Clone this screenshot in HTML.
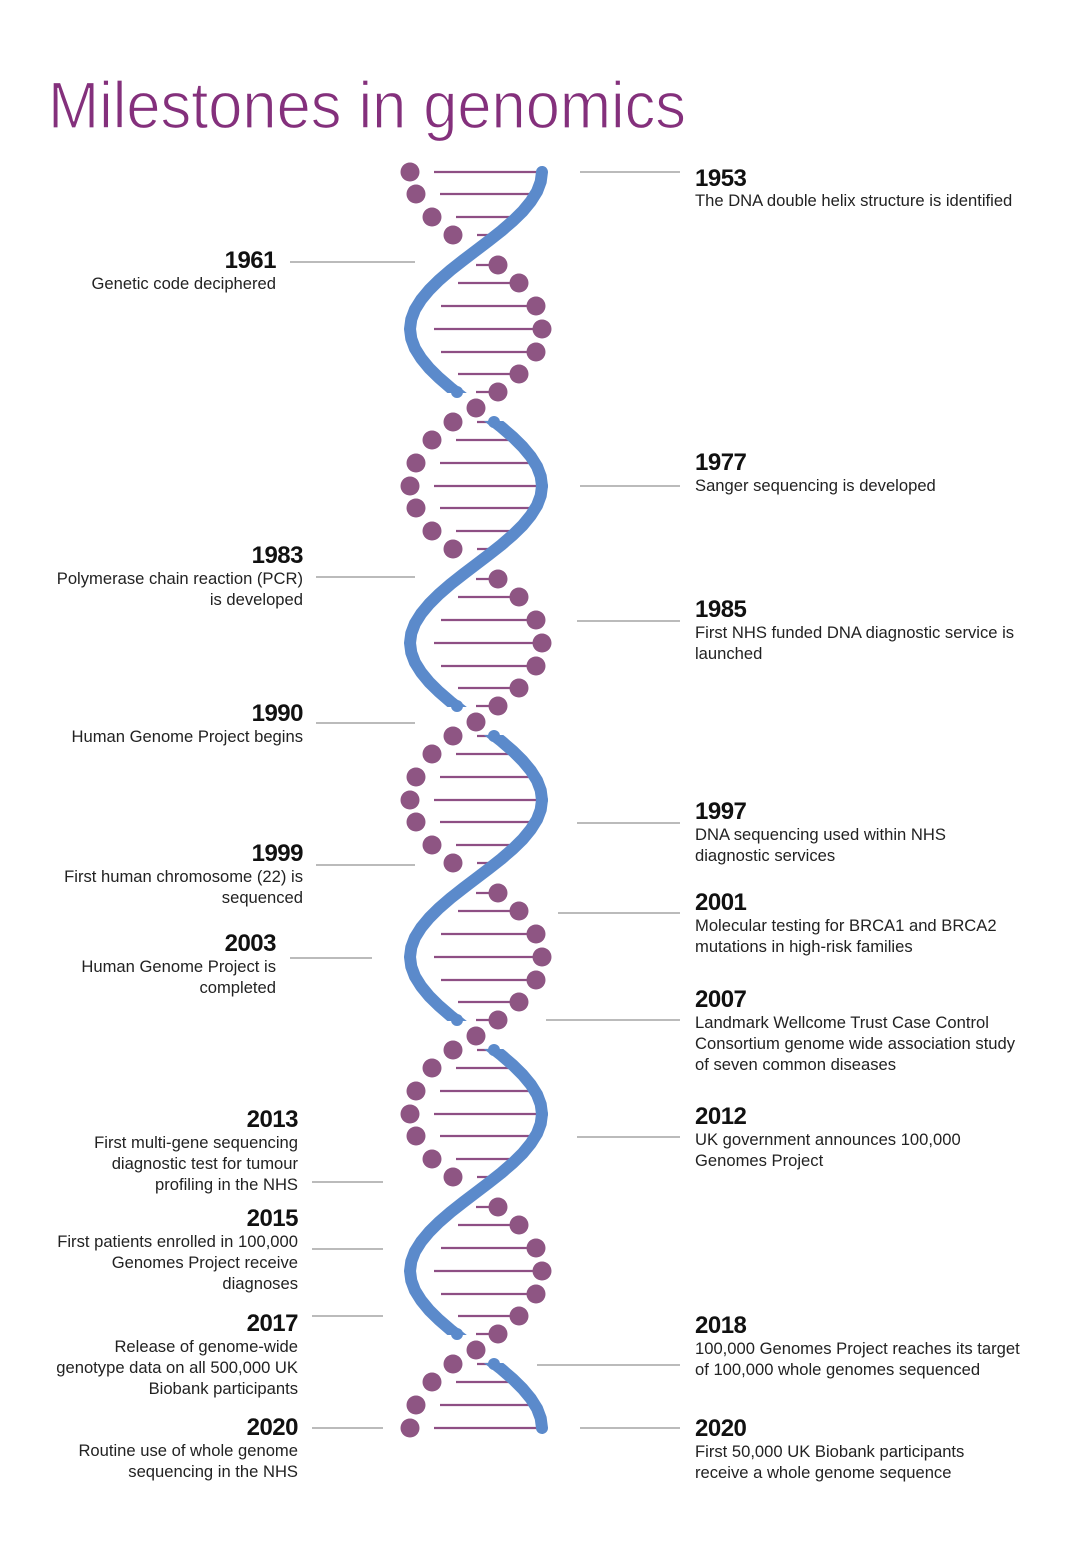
<!DOCTYPE html>
<html><head><meta charset="utf-8">
<style>
html,body{margin:0;padding:0;background:#fff;}
svg{display:block;}
.t{font-family:"Liberation Sans",sans-serif;}
.y{font-family:"Liberation Sans",sans-serif;font-weight:bold;font-size:24px;fill:#111;letter-spacing:-0.5px;}
.d{font-family:"Liberation Sans",sans-serif;font-size:16.6px;fill:#222;}
.L{text-anchor:end;}
.ld{stroke:#777;stroke-width:1;}
</style></head>
<body>
<svg width="1080" height="1544" viewBox="0 0 1080 1544" xmlns="http://www.w3.org/2000/svg">
<defs>
<g id="per">
 <g stroke="#8e4f84" stroke-width="2.2">
  <line x1="434" y1="172" x2="540" y2="172"/>
  <line x1="440" y1="194" x2="534" y2="194"/>
  <line x1="456" y1="217" x2="517" y2="217"/>
  <line x1="477" y1="235" x2="496" y2="235"/>
  <line x1="476" y1="265" x2="498" y2="265"/>
  <line x1="458" y1="283" x2="519" y2="283"/>
  <line x1="441" y1="306" x2="536" y2="306"/>
  <line x1="434" y1="329" x2="542" y2="329"/>
  <line x1="441" y1="352" x2="536" y2="352"/>
  <line x1="458" y1="374" x2="519" y2="374"/>
  <line x1="476" y1="392" x2="498" y2="392"/>
  <line x1="477" y1="422" x2="496" y2="422"/>
  <line x1="456" y1="440" x2="517" y2="440"/>
  <line x1="440" y1="463" x2="534" y2="463"/>
 </g>
 <g fill="#8e5583">
  <circle cx="410" cy="172" r="9.5"/>
  <circle cx="416" cy="194" r="9.5"/>
  <circle cx="432" cy="217" r="9.5"/>
  <circle cx="453" cy="235" r="9.5"/>
  <circle cx="498" cy="265" r="9.5"/>
  <circle cx="519" cy="283" r="9.5"/>
  <circle cx="536" cy="306" r="9.5"/>
  <circle cx="542" cy="329" r="9.5"/>
  <circle cx="536" cy="352" r="9.5"/>
  <circle cx="519" cy="374" r="9.5"/>
  <circle cx="498" cy="392" r="9.5"/>
  <circle cx="476" cy="408" r="9.5"/>
  <circle cx="453" cy="422" r="9.5"/>
  <circle cx="432" cy="440" r="9.5"/>
  <circle cx="416" cy="463" r="9.5"/>
 </g>
</g>
<clipPath id="cp">
 <rect x="380" y="150" width="200" height="243"/>
 <rect x="380" y="421" width="200" height="286"/>
 <rect x="380" y="735" width="200" height="286"/>
 <rect x="380" y="1049" width="200" height="286"/>
 <rect x="380" y="1363" width="200" height="90"/>
</clipPath>
<polyline id="wave" fill="none" points="542,0 540.7,9.8 537,19.6 530.8,29.4 522.7,39.3 512.7,49.1 501.3,58.9 488.9,68.7 476,78.5 463.1,88.3 450.7,98.1 439.3,107.9 429.3,117.8 421.2,127.6 415,137.4 411.3,147.2 410,157 411.3,166.8 415,176.6 421.2,186.4 429.3,196.3 439.3,206.1 450.7,215.9 463.1,225.7 476,235.5 488.9,245.3 501.3,255.1 512.7,264.9 522.7,274.8 530.8,284.6 537,294.4 540.7,304.2 542,314"/>
<g id="caps"><circle cx="457" cy="392" r="6"/><circle cx="494" cy="422" r="6"/></g>
</defs>

<text class="t" x="48" y="128" font-size="66" fill="#84307c" stroke="#fff" stroke-width="1.3" paint-order="normal" textLength="638" lengthAdjust="spacingAndGlyphs">Milestones in genomics</text>

<use href="#per"/>
<use href="#per" y="314"/>
<use href="#per" y="628"/>
<use href="#per" y="942"/>
<line x1="434" y1="1428" x2="540" y2="1428" stroke="#8e4f84" stroke-width="2.2"/>
<circle cx="410" cy="1428" r="9.5" fill="#8e5583"/>

<g clip-path="url(#cp)" stroke="#5b8acb" stroke-width="12" stroke-linecap="round" stroke-linejoin="round">
 <use href="#wave" y="172"/>
 <use href="#wave" y="486"/>
 <use href="#wave" y="800"/>
 <use href="#wave" y="1114"/>
</g>
<g fill="#5b8acb">
 <use href="#caps"/>
 <use href="#caps" y="314"/>
 <use href="#caps" y="628"/>
 <use href="#caps" y="942"/>
</g>

<!-- leaders -->
<g class="ld">
 <line x1="580" y1="172" x2="680" y2="172"/>
 <line x1="580" y1="486" x2="680" y2="486"/>
 <line x1="577" y1="621" x2="680" y2="621"/>
 <line x1="577" y1="823" x2="680" y2="823"/>
 <line x1="558" y1="913" x2="680" y2="913"/>
 <line x1="546" y1="1020" x2="680" y2="1020"/>
 <line x1="577" y1="1137" x2="680" y2="1137"/>
 <line x1="537" y1="1365" x2="680" y2="1365"/>
 <line x1="580" y1="1428" x2="680" y2="1428"/>
 <line x1="290" y1="262" x2="415" y2="262"/>
 <line x1="316" y1="577" x2="415" y2="577"/>
 <line x1="316" y1="723" x2="415" y2="723"/>
 <line x1="316" y1="865" x2="415" y2="865"/>
 <line x1="290" y1="958" x2="372" y2="958"/>
 <line x1="312" y1="1182" x2="383" y2="1182"/>
 <line x1="312" y1="1249" x2="383" y2="1249"/>
 <line x1="312" y1="1316" x2="383" y2="1316"/>
 <line x1="312" y1="1428" x2="383" y2="1428"/>
</g>

<!-- right -->
<text class="y" x="695" y="186">1953</text>
<text class="d" x="695" y="206">The DNA double helix structure is identified</text>
<text class="y" x="695" y="470">1977</text>
<text class="d" x="695" y="491">Sanger sequencing is developed</text>
<text class="y" x="695" y="617">1985</text>
<text class="d" x="695" y="638">First NHS funded DNA diagnostic service is</text>
<text class="d" x="695" y="659">launched</text>
<text class="y" x="695" y="819">1997</text>
<text class="d" x="695" y="840">DNA sequencing used within NHS</text>
<text class="d" x="695" y="861">diagnostic services</text>
<text class="y" x="695" y="910">2001</text>
<text class="d" x="695" y="931">Molecular testing for BRCA1 and BRCA2</text>
<text class="d" x="695" y="952">mutations in high-risk families</text>
<text class="y" x="695" y="1007">2007</text>
<text class="d" x="695" y="1028">Landmark Wellcome Trust Case Control</text>
<text class="d" x="695" y="1049">Consortium genome wide association study</text>
<text class="d" x="695" y="1070">of seven common diseases</text>
<text class="y" x="695" y="1124">2012</text>
<text class="d" x="695" y="1145">UK government announces 100,000</text>
<text class="d" x="695" y="1166">Genomes Project</text>
<text class="y" x="695" y="1333">2018</text>
<text class="d" x="695" y="1354">100,000 Genomes Project reaches its target</text>
<text class="d" x="695" y="1375">of 100,000 whole genomes sequenced</text>
<text class="y" x="695" y="1436">2020</text>
<text class="d" x="695" y="1457">First 50,000 UK Biobank participants</text>
<text class="d" x="695" y="1478">receive a whole genome sequence</text>

<!-- left -->
<text class="y L" x="276" y="268">1961</text>
<text class="d L" x="276" y="289">Genetic code deciphered</text>
<text class="y L" x="303" y="563">1983</text>
<text class="d L" x="303" y="584">Polymerase chain reaction (PCR)</text>
<text class="d L" x="303" y="605">is developed</text>
<text class="y L" x="303" y="721">1990</text>
<text class="d L" x="303" y="742">Human Genome Project begins</text>
<text class="y L" x="303" y="861">1999</text>
<text class="d L" x="303" y="882">First human chromosome (22) is</text>
<text class="d L" x="303" y="903">sequenced</text>
<text class="y L" x="276" y="951">2003</text>
<text class="d L" x="276" y="972">Human Genome Project is</text>
<text class="d L" x="276" y="993">completed</text>
<text class="y L" x="298" y="1127">2013</text>
<text class="d L" x="298" y="1148">First multi-gene sequencing</text>
<text class="d L" x="298" y="1169">diagnostic test for tumour</text>
<text class="d L" x="298" y="1190">profiling in the NHS</text>
<text class="y L" x="298" y="1226">2015</text>
<text class="d L" x="298" y="1247">First patients enrolled in 100,000</text>
<text class="d L" x="298" y="1268">Genomes Project receive</text>
<text class="d L" x="298" y="1289">diagnoses</text>
<text class="y L" x="298" y="1331">2017</text>
<text class="d L" x="298" y="1352">Release of genome-wide</text>
<text class="d L" x="298" y="1373">genotype data on all 500,000 UK</text>
<text class="d L" x="298" y="1394">Biobank participants</text>
<text class="y L" x="298" y="1435">2020</text>
<text class="d L" x="298" y="1456">Routine use of whole genome</text>
<text class="d L" x="298" y="1477">sequencing in the NHS</text>
</svg>
</body></html>
